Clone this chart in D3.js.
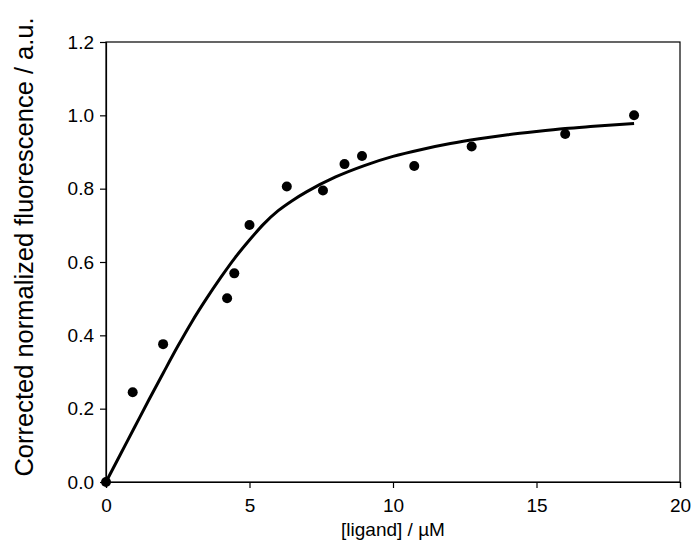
<!DOCTYPE html>
<html>
<head>
<meta charset="utf-8">
<script src="https://cdn.jsdelivr.net/npm/d3@7"></script>
<style>
  body { margin: 0; background: #fff; }
  svg text { font-family: "Liberation Sans", Arial, sans-serif; fill: #000; }
</style>
</head>
<body>
<div id="chart-div"></div>
<script>
// measured points
const ligand = [0, 0.93, 1.99, 4.22, 4.47, 5.0, 6.3, 7.56, 8.31, 8.92, 10.74, 12.74, 16.0, 18.4];
const fluorescence = [0, 0.245, 0.376, 0.501, 0.569, 0.701, 0.806, 0.795, 0.867, 0.889, 0.862, 0.915, 0.949, 1.0];

// fitted curve
const fitX = [0, 0.5, 1.0, 1.5, 2.0, 2.5, 3.0, 3.5, 4.0, 4.5, 5.0, 5.5, 6.0, 6.5, 7.0, 8.0, 9.0, 10.0, 11.0, 12.0, 13.0, 14.0, 15.0, 16.0, 17.0, 18.4];
const fitY = [0, 0.075, 0.15, 0.225, 0.298, 0.37, 0.438, 0.50, 0.558, 0.612, 0.66, 0.704, 0.74, 0.768, 0.792, 0.832, 0.863, 0.888, 0.907, 0.923, 0.936, 0.947, 0.956, 0.964, 0.97, 0.978];

const xTicks = [0, 5, 10, 15, 20];
const yTicks = [0, 0.2, 0.4, 0.6, 0.8, 1.0, 1.2];

const width = 693, height = 545;
const margin = { top: 42, right: 13, bottom: 63, left: 106 };

const svg = d3.select('#chart-div').append('svg')
  .attr('width', width)
  .attr('height', height);

const x = d3.scaleLinear().domain([0, 20]).range([margin.left, width - margin.right]);
const y = d3.scaleLinear().domain([0, 1.2]).range([height - margin.bottom, margin.top]);

// frame
svg.append('rect')
  .attr('x', x(0)).attr('y', y(1.2))
  .attr('width', x(20) - x(0)).attr('height', y(0) - y(1.2))
  .attr('fill', 'none').attr('stroke', '#000').attr('stroke-width', 1.2);

const xAxis = svg.append('g')
  .attr('transform', `translate(0,${y(0)})`)
  .call(d3.axisBottom(x).tickValues(xTicks).tickFormat(d3.format('d')).tickSize(6).tickPadding(11));

const yAxis = svg.append('g')
  .attr('transform', `translate(${x(0)},0)`)
  .call(d3.axisLeft(y).tickValues(yTicks).tickFormat(d3.format('.1f')).tickSize(6).tickPadding(6));

[xAxis, yAxis].forEach(g => {
  g.select('.domain').attr('stroke-width', 1.2);
  g.selectAll('.tick line').attr('stroke-width', 1.2);
  g.selectAll('text').attr('font-size', 19).style('font-family', '"Liberation Sans", Arial, sans-serif');
});

const line = d3.line().curve(d3.curveMonotoneX)
  .x(d => x(d[0]))
  .y(d => y(d[1]));

svg.append('path')
  .datum(fitX.map((v, i) => [v, fitY[i]]))
  .attr('fill', 'none')
  .attr('stroke', '#000')
  .attr('stroke-width', 3)
  .attr('d', line);

svg.append('g').selectAll('circle')
  .data(ligand.map((v, i) => [v, fluorescence[i]]))
  .enter()
  .append('circle')
  .attr('cx', d => x(d[0]))
  .attr('cy', d => y(d[1]))
  .attr('r', 5)
  .attr('fill', '#000');

svg.append('text')
  .attr('x', (x(0) + x(20)) / 2)
  .attr('y', 536)
  .attr('text-anchor', 'middle')
  .attr('font-size', 19)
  .text('[ligand] / µM');

// the y title is set bigger than the rest in the original
svg.append('text')
  .attr('transform', 'translate(33,247) rotate(-90)')
  .attr('text-anchor', 'middle')
  .attr('font-size', 25.5)
  .text('Corrected normalized fluorescence / a.u.');
</script>
</body>
</html>
